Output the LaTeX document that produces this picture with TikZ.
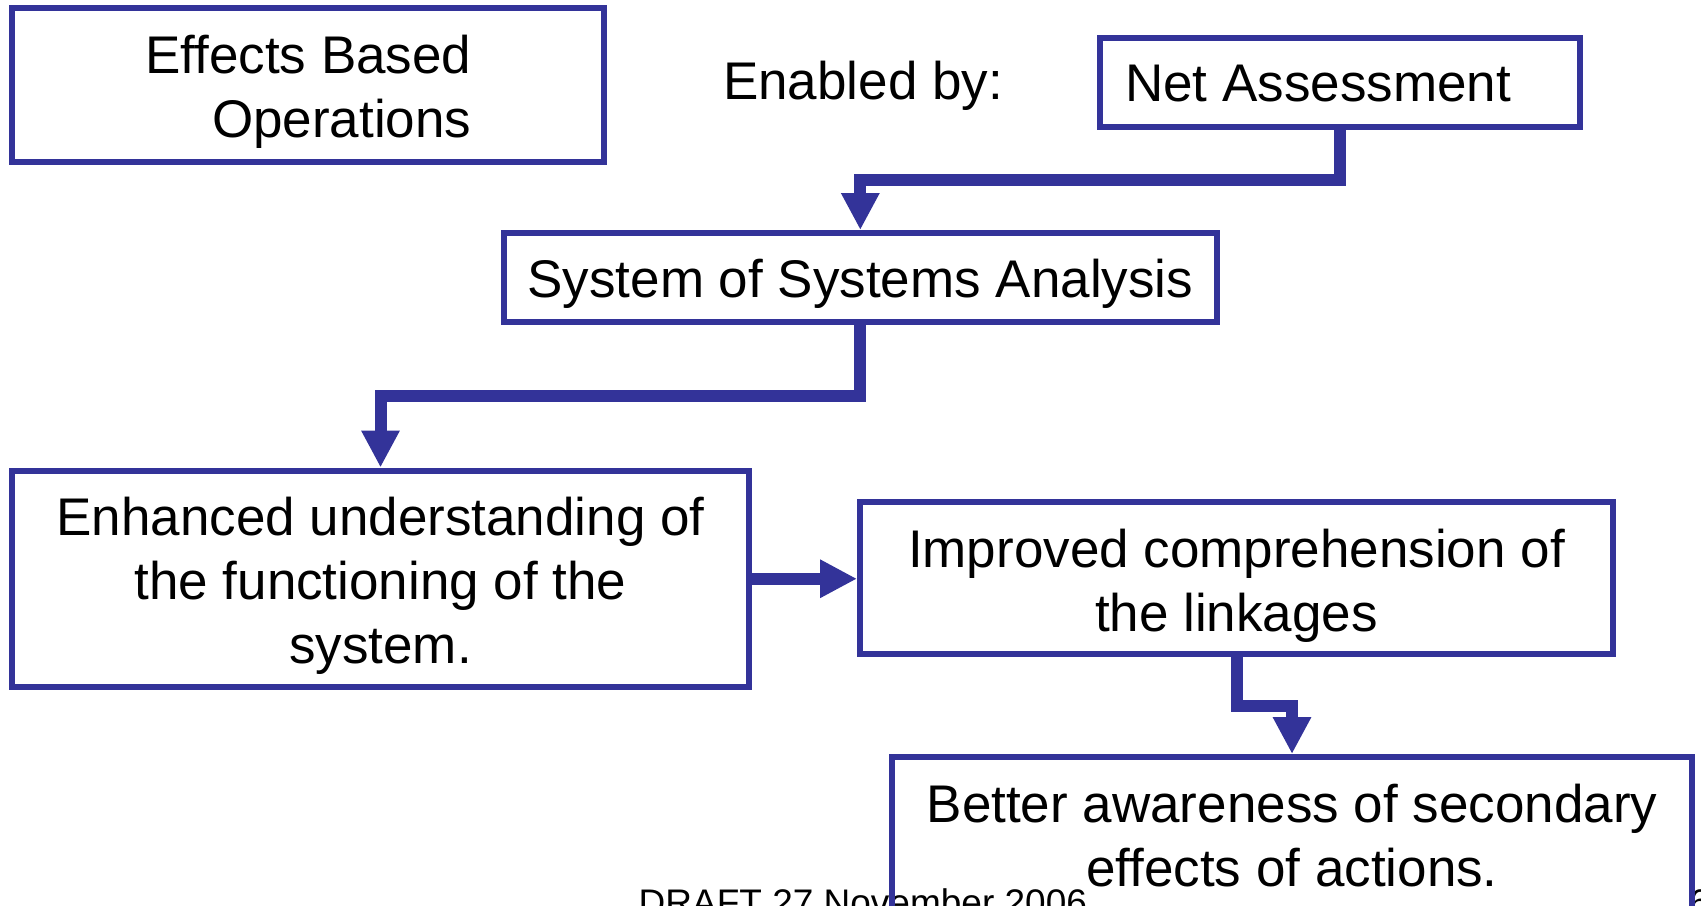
\documentclass[tikz,border=0pt]{standalone}
\usepackage{fontspec}
\setmainfont{Liberation Sans}
\usetikzlibrary{arrows.meta}
\definecolor{boxblue}{HTML}{333399}
\newcommand\boxtext[2]{\begin{tabular}[t]{@{}#1@{}}#2\end{tabular}}
\begin{document}
\begin{tikzpicture}[x=0.5pt,y=-0.5pt,
  font=\fontsize{26.5}{32}\selectfont,
  box/.style={draw=boxblue, line width=3pt, inner sep=0pt, rectangle},
  conn/.style={draw=boxblue, line width=6pt, line join=miter,
    -{Triangle[length=18.5pt,width=18pt]}},
  small/.style={font=\fontsize{18.5}{22}\selectfont, inner sep=0pt, anchor=base west}]
\path[use as bounding box] (0,0) rectangle (1701,905);
\clip (0,0) rectangle (1701,905);

% footer text (drawn first, partly hidden by page edge)
\node[small] (draft) at (638.3,915) {DRAFT 27 November 2006};
\node[small] (pnum) at (1689,915) {6};

% boxes
\node[box, minimum width=296pt, minimum height=76.7pt,
      text height=0pt, text depth=11.7pt] (ebo) at (308.4,85)
      {\boxtext{r}{Effects Based\\Operations}};
\node[inner sep=0pt, anchor=base west] (enab) at (722.7,99.3) {Enabled by:};
\node[box, minimum width=240pt, minimum height=44.5pt,
      text height=19.2pt, text depth=0pt] (na) at (1340,82.5)
      {\boxtext{l@{\hspace{22pt}}}{Net Assessment}};
\node[box, minimum width=356.65pt, minimum height=44.5pt,
      text height=19.8pt, text depth=0pt] (sos) at (860.3,277.5)
      {\boxtext{c}{System of Systems Analysis}};
\node[box, minimum width=368.5pt, minimum height=108.25pt,
      text height=0pt, text depth=43.45pt] (enh) at (380.5,578.75)
      {\boxtext{c}{Enhanced understanding of\\the functioning of the\\system.}};
\node[box, minimum width=376.5pt, minimum height=76pt,
      text height=0pt, text depth=11pt] (imp) at (1236.5,578)
      {\boxtext{c}{Improved comprehension of\\the linkages}};
\node[box, minimum width=400pt, minimum height=101.5pt,
      text height=0pt, text depth=36.5pt] (bet) at (1292,858.5)
      {\boxtext{c}{Better awareness of secondary\\effects of actions.}};

% connectors
\draw[conn] (na.south) -- ++(0,50) -| (sos.north);
\draw[conn] (sos.south) -- ++(0,70.5) -| (enh.north);
\draw[conn] (enh.east) -- (enh.east -| imp.west);
\draw[conn] (imp.south) -- ++(0,49) -| (bet.north);
\end{tikzpicture}
\end{document}
